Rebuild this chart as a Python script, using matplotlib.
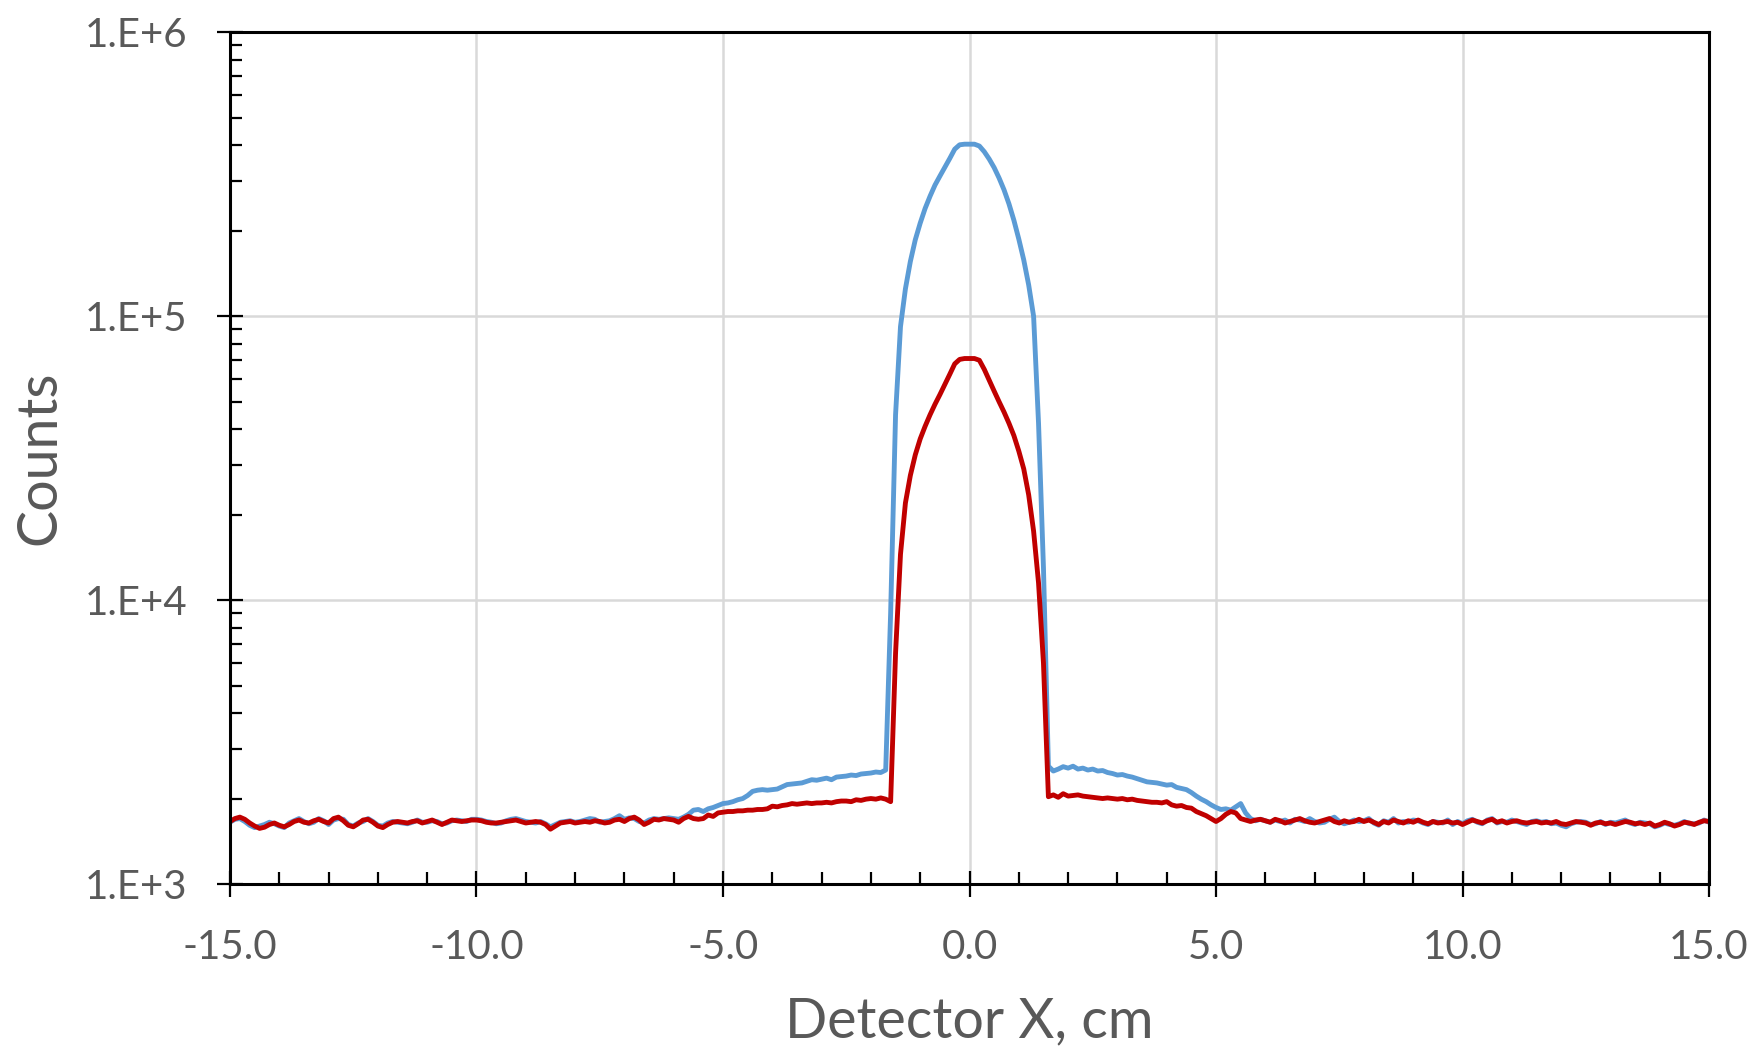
import numpy as np
import matplotlib
matplotlib.use("Agg")
import matplotlib.pyplot as plt
from matplotlib.ticker import MultipleLocator, FixedLocator, FuncFormatter, LogLocator, NullFormatter

# detector x positions, 0.1 cm pitch from -15.0 to 15.0
x_cm = np.round(np.linspace(-15.0, 15.0, 301), 1)

# blue series (counts)
blue_left = [
    1650, 1690, 1700, 1660, 1610, 1580, 1600, 1620, 1650, 1630,   # -15.0 .. -14.1
    1600, 1580, 1640, 1670, 1700, 1660, 1630, 1650, 1700, 1670,   # -14.0 .. -13.1
    1620, 1680, 1700, 1690, 1620, 1600, 1640, 1660, 1700, 1660,   # -13.0 .. -12.1
    1610, 1600, 1640, 1660, 1650, 1640, 1630, 1650, 1680, 1650,   # -12.0 .. -11.1
    1650, 1670, 1660, 1630, 1640, 1670, 1680, 1670, 1660, 1690,   # -11.0 .. -10.1
    1690, 1680, 1660, 1650, 1630, 1640, 1670, 1690, 1700, 1680,   # -10.0 .. -9.1
    1660, 1650, 1640, 1660, 1630, 1590, 1620, 1650, 1660, 1670,   # -9.0 .. -8.1
    1650, 1660, 1680, 1700, 1690, 1650, 1660, 1670, 1700, 1740,   # -8.0 .. -7.1
    1690, 1710, 1700, 1660, 1640, 1680, 1700, 1690, 1700, 1710,   # -7.0 .. -6.1
    1700, 1690, 1720, 1760, 1820, 1830, 1800, 1840, 1860, 1890,   # -6.0 .. -5.1
    1920, 1930, 1950, 1980, 2000, 2050, 2120, 2140, 2150, 2140,   # -5.0 .. -4.1
    2150, 2160, 2200, 2240, 2250, 2260, 2270, 2300, 2330, 2320,   # -4.0 .. -3.1
    2340, 2360, 2330, 2380, 2390, 2400, 2420, 2410, 2440, 2450,   # -3.0 .. -2.1
    2460, 2480, 2470, 2520,                                       # -2.0 .. -1.7
]
blue_peak = [
    9000, 45000, 92000, 125000, 156000, 186000, 213000, 240000, 265000, 290000,   # -1.6 .. -0.7
    312000, 335000, 360000, 388000, 402000, 404000, 404000, 404000, 398000, 380000,  # -0.6 .. 0.3
    358000, 334000, 307000, 279000, 249000, 218000, 187000, 158000, 129000, 100000,  # 0.4 .. 1.3
    42000, 13000, 2600,                                                              # 1.4 .. 1.6
]
blue_right = [
    2500, 2540, 2590, 2560, 2600, 2540, 2560, 2520, 2540, 2500,   # 1.7 .. 2.6
    2510, 2470, 2450, 2420, 2430, 2400, 2380, 2350, 2320, 2290,   # 2.7 .. 3.6
    2280, 2270, 2250, 2230, 2240, 2190, 2170, 2150, 2100, 2040,   # 3.7 .. 4.6
    1990, 1950, 1900, 1860, 1830, 1840, 1820, 1870, 1920, 1780,   # 4.7 .. 5.6
    1700, 1670, 1690, 1670, 1650, 1680, 1660, 1680, 1640, 1690,   # 5.7 .. 6.6
    1680, 1660, 1700, 1660, 1640, 1650, 1690, 1720, 1660, 1630,   # 6.7 .. 7.6
    1650, 1680, 1660, 1670, 1700, 1640, 1610, 1670, 1650, 1700,   # 7.7 .. 8.6
    1640, 1660, 1650, 1680, 1670, 1640, 1620, 1660, 1650, 1640,   # 8.7 .. 9.6
    1680, 1620, 1660, 1630, 1670, 1690, 1650, 1630, 1680, 1700,   # 9.7 .. 10.6
    1640, 1660, 1650, 1680, 1660, 1640, 1620, 1660, 1670, 1650,   # 10.7 .. 11.6
    1660, 1630, 1640, 1610, 1590, 1630, 1650, 1660, 1650, 1620,   # 11.7 .. 12.6
    1630, 1660, 1620, 1650, 1640, 1660, 1680, 1640, 1620, 1650,   # 12.7 .. 13.6
    1640, 1630, 1590, 1610, 1640, 1620, 1610, 1630, 1660, 1630,   # 13.7 .. 14.6
    1630, 1640, 1680, 1650,                                       # 14.7 .. 15.0
]

# red series (counts)
red_left = [
    1660, 1700, 1720, 1690, 1640, 1600, 1570, 1585, 1620, 1640,   # -15.0 .. -14.1
    1610, 1590, 1620, 1660, 1680, 1650, 1640, 1670, 1690, 1660,   # -14.0 .. -13.1
    1640, 1700, 1720, 1670, 1610, 1590, 1630, 1680, 1690, 1650,   # -13.0 .. -12.1
    1600, 1580, 1620, 1650, 1660, 1650, 1640, 1660, 1670, 1640,   # -12.0 .. -11.1
    1660, 1680, 1650, 1620, 1650, 1680, 1670, 1660, 1670, 1680,   # -11.0 .. -10.1
    1680, 1670, 1650, 1640, 1640, 1650, 1660, 1670, 1680, 1660,   # -10.0 .. -9.1
    1640, 1650, 1660, 1650, 1620, 1560, 1600, 1640, 1650, 1660,   # -9.0 .. -8.1
    1640, 1650, 1660, 1650, 1670, 1660, 1640, 1650, 1680, 1690,   # -8.0 .. -7.1
    1660, 1700, 1720, 1680, 1620, 1650, 1690, 1680, 1700, 1690,   # -7.0 .. -6.1
    1680, 1650, 1700, 1730, 1700, 1690, 1700, 1750, 1730, 1780,   # -6.0 .. -5.1
    1790, 1800, 1800, 1810, 1810, 1820, 1820, 1830, 1830, 1840,   # -5.0 .. -4.1
    1880, 1870, 1890, 1900, 1920, 1910, 1920, 1930, 1920, 1930,   # -4.0 .. -3.1
    1930, 1940, 1930, 1950, 1960, 1960, 1950, 1980, 1970, 1990,   # -3.0 .. -2.1
    2000, 1990, 2010, 1990,                                       # -2.0 .. -1.7
]
red_peak = [
    1950, 6500, 14500, 22000, 27500, 32500, 37000, 41000, 45000, 49000,   # -1.6 .. -0.7
    53000, 57500, 62500, 68000, 70500, 71000, 71000, 71000, 70000, 65000,  # -0.6 .. 0.3
    59500, 54500, 50000, 46000, 42000, 38000, 33500, 29000, 23500, 17500,  # 0.4 .. 1.3
    11500, 6000, 2030,                                                     # 1.4 .. 1.6
]
red_right = [
    2060, 2020, 2080, 2040, 2050, 2060, 2040, 2030, 2020, 2010,   # 1.7 .. 2.6
    2000, 2010, 2000, 1990, 2000, 1980, 1990, 1970, 1960, 1950,   # 2.7 .. 3.6
    1940, 1940, 1930, 1950, 1900, 1880, 1890, 1860, 1850, 1800,   # 3.7 .. 4.6
    1770, 1740, 1700, 1660, 1700, 1760, 1800, 1780, 1700, 1680,   # 4.7 .. 5.6
    1660, 1680, 1690, 1670, 1650, 1690, 1670, 1640, 1660, 1680,   # 5.7 .. 6.6
    1700, 1670, 1650, 1640, 1660, 1680, 1700, 1660, 1640, 1670,   # 6.7 .. 7.6
    1650, 1660, 1690, 1660, 1680, 1650, 1620, 1660, 1640, 1680,   # 7.7 .. 8.6
    1660, 1640, 1670, 1650, 1680, 1650, 1630, 1660, 1640, 1650,   # 8.7 .. 9.6
    1660, 1640, 1650, 1620, 1650, 1680, 1660, 1640, 1670, 1690,   # 9.7 .. 10.6
    1650, 1670, 1640, 1660, 1670, 1650, 1640, 1650, 1660, 1640,   # 10.7 .. 11.6
    1650, 1640, 1660, 1630, 1620, 1640, 1660, 1650, 1640, 1610,   # 11.7 .. 12.6
    1640, 1650, 1630, 1640, 1620, 1640, 1660, 1650, 1630, 1640,   # 12.7 .. 13.6
    1620, 1640, 1600, 1620, 1650, 1630, 1600, 1620, 1650, 1640,   # 13.7 .. 14.6
    1620, 1650, 1670, 1660,                                       # 14.7 .. 15.0
]

blue_counts = np.array(blue_left + blue_peak + blue_right, dtype=float)
red_counts = np.array(red_left + red_peak + red_right, dtype=float)

x_lim = (-15, 15)
y_lim = (1e3, 1e6)
gray_txt = "#595959"

plt.rcParams['font.family'] = ['Lato', 'DejaVu Sans']

fig = plt.figure(figsize=(17.57, 10.47), dpi=100)
ax = fig.add_axes([0.1309, 0.1557, 0.8418, 0.8133])

ax.plot(x_cm, blue_counts, color="#5B9BD5", lw=3.5, zorder=3, solid_joinstyle="round")
ax.plot(x_cm, red_counts, color="#C00000", lw=3.5, zorder=4, solid_joinstyle="round")

ax.set_yscale("log")
ax.set_xlim(*x_lim)
ax.set_ylim(*y_lim)

ax.xaxis.set_major_locator(MultipleLocator(5))
ax.xaxis.set_minor_locator(MultipleLocator(1))
ax.xaxis.set_major_formatter(FuncFormatter(lambda v, _: f"{v:.1f}"))
ax.yaxis.set_major_locator(FixedLocator([1e3, 1e4, 1e5, 1e6]))
ax.yaxis.set_minor_locator(LogLocator(base=10, subs=np.arange(2, 10)))
ax.yaxis.set_major_formatter(FuncFormatter(lambda v, _: f"1.E+{int(round(np.log10(v)))}"))
ax.yaxis.set_minor_formatter(NullFormatter())

ax.grid(True, which="major", color="#D9D9D9", lw=1.8, zorder=0)
ax.set_axisbelow(True)

for s in ax.spines.values():
    s.set_color("black")
    s.set_linewidth(2.2)
    s.set_zorder(5)

ax.tick_params(which="major", direction="inout", length=19, width=1.6, color="black",
               labelcolor=gray_txt, labelsize=29)
ax.tick_params(axis="x", which="major", pad=23)
ax.tick_params(axis="y", which="major", pad=21)
ax.tick_params(which="minor", direction="in", length=8.5, width=1.6, color="black")

ax.set_xlabel("Detector X, cm", fontsize=40, color=gray_txt, labelpad=22)
ax.set_ylabel("Counts", fontsize=40, color=gray_txt, labelpad=14)

fig.savefig("out.png", dpi=100)
